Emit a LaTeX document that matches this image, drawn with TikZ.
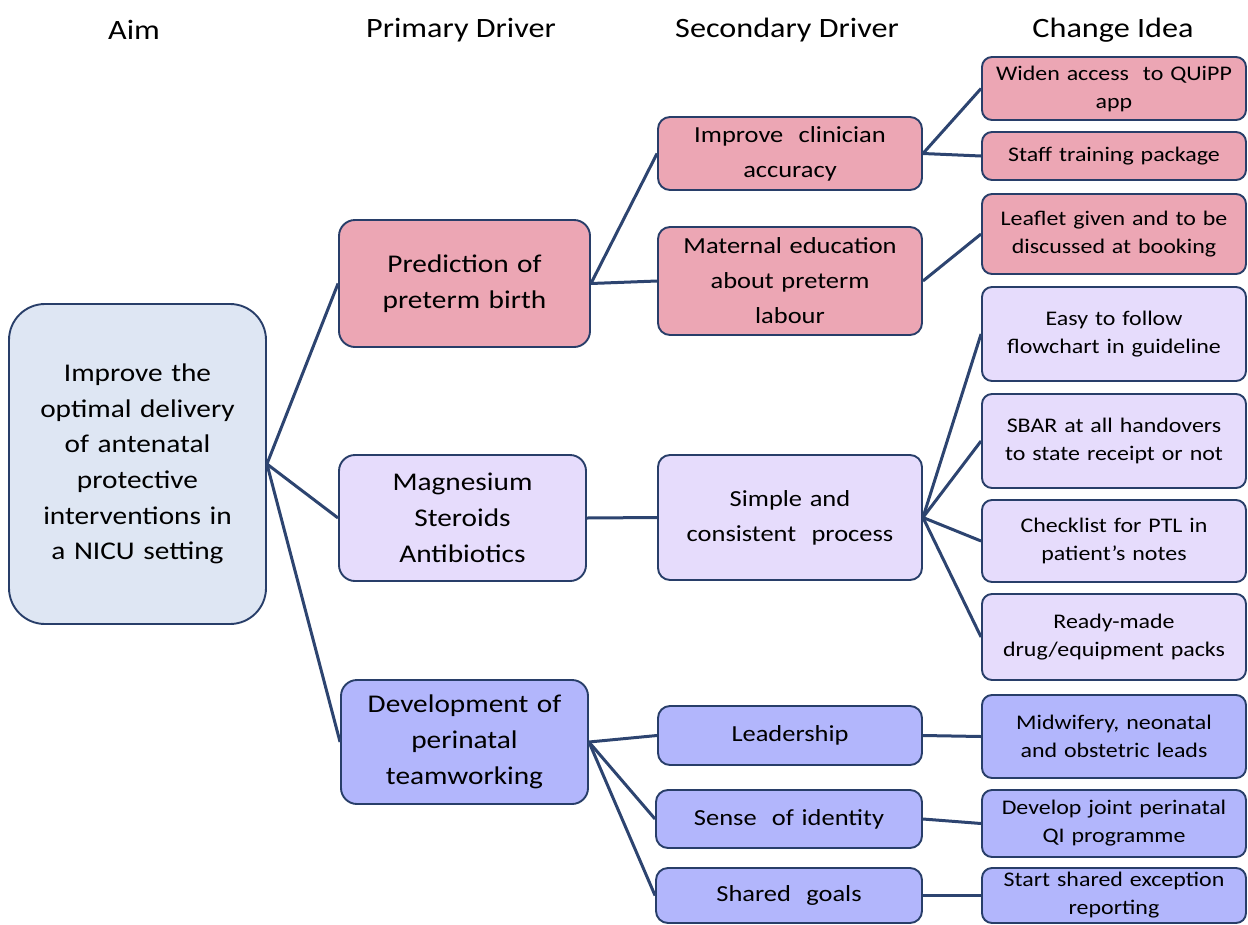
\documentclass[tikz,border=0pt]{standalone}
\usepackage{fontspec}
\setmainfont{Carlito}[FakeStretch=1.15]
\definecolor{edge}{RGB}{40,62,105}
\definecolor{linec}{RGB}{45,68,112}
\definecolor{pinkf}{RGB}{236,166,180}
\definecolor{lavf}{RGB}{230,220,252}
\definecolor{perif}{RGB}{178,182,252}
\definecolor{aimf}{RGB}{222,230,243}
\tikzset{
  box/.style={draw=edge, line width=1.9pt, rounded corners=10pt, align=center, inner sep=1pt, text=black},
  aimbox/.style={box, fill=aimf, rounded corners=36pt, font=\fontsize{25.5}{35.6}\selectfont, text width=250pt},
  prim/.style={box, rounded corners=16pt, font=\fontsize{25.5}{36}\selectfont, text width=245pt},
  sec/.style={box, rounded corners=12pt, font=\fontsize{23}{35}\selectfont, text width=262pt},
  chg/.style={box, rounded corners=10pt, font=\fontsize{20.8}{28}\selectfont, text width=262pt},
  head/.style={font=\fontsize{28}{32}\selectfont, text=black},
  conn/.style={draw=linec, line width=3pt},
}
\begin{document}
\begin{tikzpicture}[x=1pt,y=-1pt]
\useasboundingbox (0,0) rectangle (1248,924);
% headers
\node[head] (h1) at (134,30) {Aim};
\node[head] (h2) at (461,30) {Primary Driver};
\node[head] (h3) at (787,30) {Secondary Driver};
\node[head] (h4) at (1113,30) {Change Idea};
% connectors (drawn first, boxes on top)
\coordinate (aimE) at (266,463);
% aim
\node[aimbox, minimum width=257pt, minimum height=320pt] (aim) at (137.5,464) {Improve the\\optimal delivery\\of antenatal\\protective\\interventions in\\a NICU setting};
% primary
\node[prim, fill=pinkf, minimum width=251pt, minimum height=127pt] (p1) at (464.5,283.5) {Prediction of\\preterm birth};
\node[prim, fill=lavf, minimum width=247pt, minimum height=126pt] (p2) at (462.5,518) {Magnesium\\Steroids\\Antibiotics};
\node[prim, fill=perif, minimum width=247pt, minimum height=124pt] (p3) at (464.5,742) {Development of\\perinatal\\teamworking};
% secondary
\node[sec, fill=pinkf, minimum width=264pt, minimum height=73pt] (s1) at (790,153.5) {Improve~~clinician\\accuracy};
\node[sec, fill=pinkf, minimum width=264pt, minimum height=108pt] (s2) at (790,281) {Maternal education\\about preterm\\labour};
\node[sec, fill=lavf, minimum width=264pt, minimum height=125pt] (s3) at (790,517.5) {Simple and\\consistent~~process};
\node[sec, fill=perif, minimum width=264pt, minimum height=59pt] (s4) at (790,735.5) {Leadership};
\node[sec, fill=perif, minimum width=266pt, minimum height=58pt] (s5) at (789,819) {Sense~~of identity};
\node[sec, fill=perif, minimum width=266pt, minimum height=55pt] (s6) at (789,895.5) {Shared~~goals};
% change ideas
\node[chg, fill=pinkf, minimum width=264pt, minimum height=63pt] (c1) at (1114,88.5) {Widen access~~to QUiPP\\app};
\node[chg, fill=pinkf, minimum width=264pt, minimum height=48pt] (c2) at (1114,156) {Staff training package};
\node[chg, fill=pinkf, minimum width=264pt, minimum height=80pt] (c3) at (1114,234) {Leaflet given and to be\\discussed at booking};
\node[chg, fill=lavf, minimum width=264pt, minimum height=94pt] (c4) at (1114,334) {Easy to follow\\flowchart in guideline};
\node[chg, fill=lavf, minimum width=264pt, minimum height=94pt] (c5) at (1114,441) {SBAR at all handovers\\to state receipt or not};
\node[chg, fill=lavf, minimum width=264pt, minimum height=82pt] (c6) at (1114,541) {Checklist for PTL in\\patient’s notes};
\node[chg, fill=lavf, minimum width=264pt, minimum height=86pt] (c7) at (1114,637) {Ready-made\\drug/equipment packs};
\node[chg, fill=perif, minimum width=264pt, minimum height=83pt] (c8) at (1114,736.5) {Midwifery, neonatal\\and obstetric leads};
\node[chg, fill=perif, minimum width=264pt, minimum height=67pt] (c9) at (1114,823.5) {Develop joint perinatal\\QI programme};
\node[chg, fill=perif, minimum width=264pt, minimum height=55pt] (c10) at (1114,895.5) {Start shared exception\\reporting};
% connectors
\draw[conn] (aim.east) -- (p1.west);
\draw[conn] (aim.east) -- (p2.west);
\draw[conn] (aim.east) -- (p3.west);
\draw[conn] (p1.east) -- (s1.west);
\draw[conn] (p1.east) -- (s2.west);
\draw[conn] (p2.east) -- (s3.west);
\draw[conn] (p3.east) -- (s4.west);
\draw[conn] (p3.east) -- (s5.west);
\draw[conn] (p3.east) -- (s6.west);
\draw[conn] (s1.east) -- (c1.west);
\draw[conn] (s1.east) -- (c2.west);
\draw[conn] (s2.east) -- (c3.west);
\draw[conn] (s3.east) -- (c4.west);
\draw[conn] (s3.east) -- (c5.west);
\draw[conn] (s3.east) -- (c6.west);
\draw[conn] (s3.east) -- (c7.west);
\draw[conn] (s4.east) -- (c8.west);
\draw[conn] (s5.east) -- (c9.west);
\draw[conn] (s6.east) -- (c10.west);
\end{tikzpicture}
\end{document}
